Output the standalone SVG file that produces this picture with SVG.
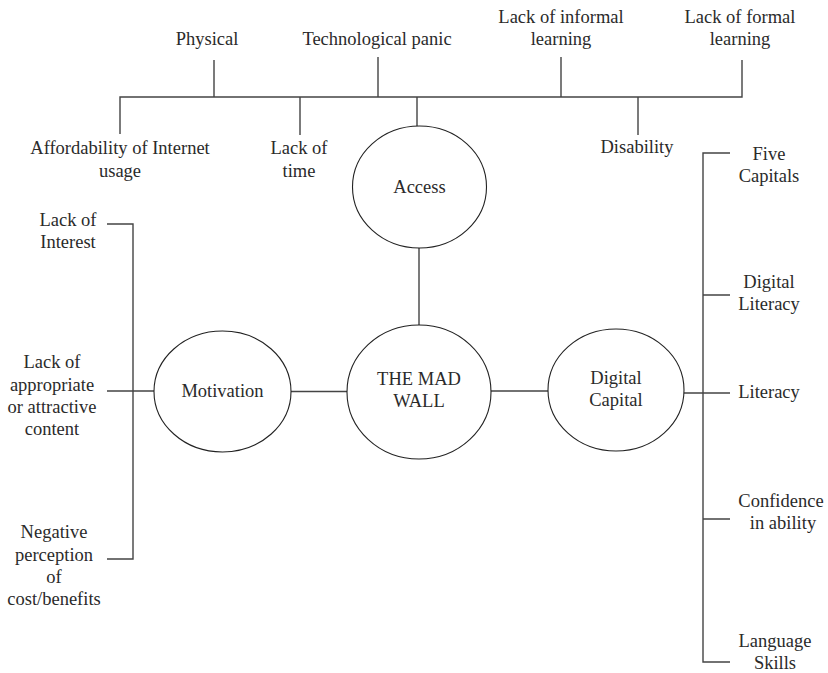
<svg xmlns="http://www.w3.org/2000/svg" width="828" height="673" viewBox="0 0 828 673" font-family="Liberation Serif, DejaVu Serif, serif">
<style>
text{font-family:"Liberation Serif","DejaVu Serif",serif;font-size:18.5px;fill:#2a2a2a;text-anchor:middle}
.ln{stroke:#444;stroke-width:1.4;fill:none}
.el{stroke:#222;stroke-width:1.1;fill:#fff}
</style>
<rect width="828" height="673" fill="#fff"/>
<g id="connectors">
<path class="ln" d="M120,134V97H742V60M214,97V60M378,97V57M561,97V57M300,97V135M417,97V126M638,97V135"/>
<path class="ln" d="M419,248V325M291,391.5H347M491,391H548"/>
<path class="ln" d="M107,224H133V559H107M107,391H154"/>
<path class="ln" d="M730,153H703V662H730M703,295H730M684,393H730M703,519H730"/>
</g>
<g id="access"><ellipse class="el" cx="419.5" cy="187" rx="67" ry="61"/><text x="419.5" y="193">Access</text></g>
<g id="wall"><ellipse class="el" cx="419" cy="392" rx="72" ry="67"/><text x="419" y="385">THE MAD</text><text x="419" y="407">WALL</text></g>
<g id="motivation"><ellipse class="el" cx="222.5" cy="391.5" rx="68.5" ry="60.5"/><text x="222.5" y="397">Motivation</text></g>
<g id="digital"><ellipse class="el" cx="616" cy="390" rx="68" ry="61"/><text x="616" y="384">Digital</text><text x="616" y="406">Capital</text></g>
<g id="physical"><text x="207" y="45">Physical</text></g>
<g id="techpanic"><text x="377" y="45">Technological panic</text></g>
<g id="informal"><text x="561" y="23">Lack of informal</text><text x="561" y="45">learning</text></g>
<g id="formal"><text x="740" y="23">Lack of formal</text><text x="740" y="45">learning</text></g>
<g id="afford"><text x="120" y="154">Affordability of Internet</text><text x="120" y="177">usage</text></g>
<g id="time"><text x="299" y="154">Lack of</text><text x="299" y="177">time</text></g>
<g id="disability"><text x="637" y="153">Disability</text></g>
<g id="interest"><text x="68" y="226">Lack of</text><text x="68" y="248">Interest</text></g>
<g id="content"><text x="52" y="368">Lack of</text><text x="52" y="391">appropriate</text><text x="52" y="413">or attractive</text><text x="52" y="435">content</text></g>
<g id="negative"><text x="54" y="538">Negative</text><text x="54" y="561">perception</text><text x="54" y="583">of</text><text x="54" y="605">cost/benefits</text></g>
<g id="fivecap"><text x="769" y="160">Five</text><text x="769" y="182">Capitals</text></g>
<g id="diglit"><text x="769" y="288">Digital</text><text x="769" y="310">Literacy</text></g>
<g id="literacy"><text x="769" y="398">Literacy</text></g>
<g id="confidence"><text x="781" y="507">Confidence</text><text x="783" y="529">in ability</text></g>
<g id="language"><text x="775" y="647">Language</text><text x="775" y="669">Skills</text></g>
</svg>
